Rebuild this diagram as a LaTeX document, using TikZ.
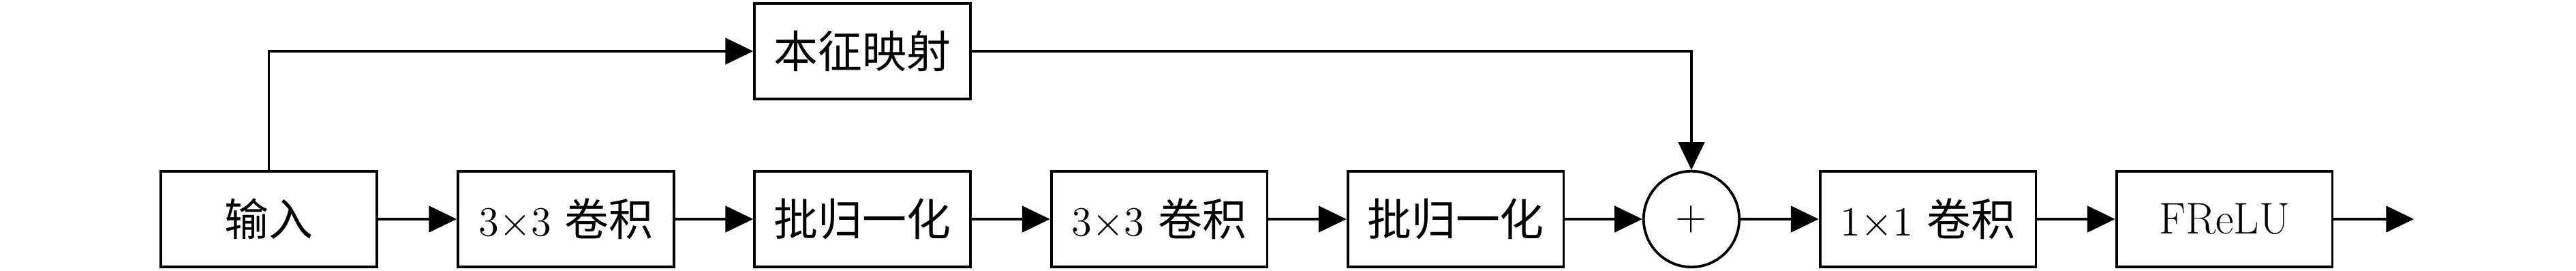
\documentclass[tikz,border=0pt]{standalone}
\usepackage{fontspec}
\newfontfamily\cjk{Noto Sans CJK SC}
\usetikzlibrary{arrows.meta}
\begin{document}
\begin{tikzpicture}[
  line width=0.9pt,
  font=\fontsize{15.4}{18}\selectfont,
  blk/.style={draw, minimum width=2.64cm, minimum height=1.167cm, inner sep=0pt},
  sumnode/.style={draw, circle, minimum size=1.17cm, inner sep=0pt},
  arr/.style={-{Triangle[length=0.34cm,width=0.32cm]}}
]
\useasboundingbox (0,0) rectangle (31.5,3.308);
\node[blk] (in) at (3.2875,0.633) {\cjk 输入};
\node[blk] (c1) at (6.92,0.633) {$3{\times}3$ {\cjk 卷积}};
\node[blk] (b1) at (10.546,0.633) {\cjk 批归一化};
\node[blk] (c2) at (14.175,0.633) {$3{\times}3$ {\cjk 卷积}};
\node[blk] (b2) at (17.8,0.633) {\cjk 批归一化};
\node[sumnode] (plus) at (20.683,0.633) {$+$};
\node[blk] (c3) at (23.575,0.633) {$1{\times}1$ {\cjk 卷积}};
\node[blk] (fr) at (27.2,0.633) {FReLU};
\node[blk] (map) at (10.546,2.683) {\cjk 本征映射};
\coordinate (out) at (29.517,0.633);
\draw[arr] (in) -- (c1);
\draw[arr] (c1) -- (b1);
\draw[arr] (b1) -- (c2);
\draw[arr] (c2) -- (b2);
\draw[arr] (b2) -- (plus);
\draw[arr] (plus) -- (c3);
\draw[arr] (c3) -- (fr);
\draw[arr] (fr) -- (out);
\draw[arr] (in.north) |- (map.west);
\draw[arr] (map.east) -| (plus.north);
\end{tikzpicture}
\end{document}
